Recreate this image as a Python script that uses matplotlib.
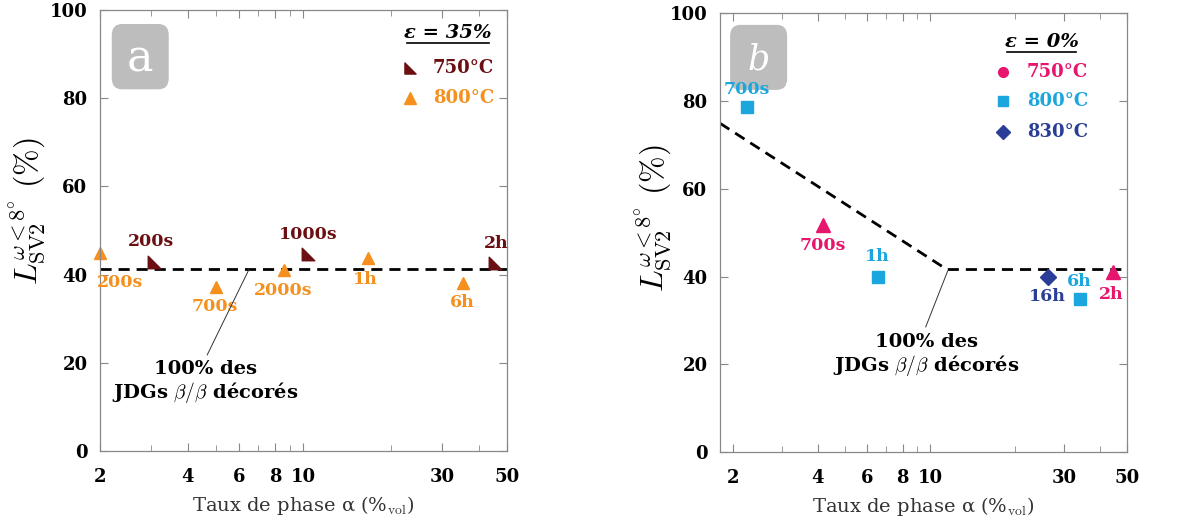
import matplotlib
matplotlib.use("Agg")
from matplotlib import pyplot as plt
from matplotlib.patches import FancyBboxPatch
from matplotlib.lines import Line2D
from matplotlib.path import Path
import matplotlib.ticker as mticker

# panel a data (eps = 35%)
a750_x = [3.07, 10.4, 45.6]
a750_y = [42.8, 44.6, 42.6]
a750_lab = ["200s", "1000s", "2h"]
a800_x = [2.0, 5.0, 8.55, 16.6, 35.3]
a800_y = [44.9, 37.1, 41.0, 43.7, 38.2]
a800_lab = ["200s", "700s", "2000s", "1h", "6h"]
a_plateau = 41.2

# panel b data (eps = 0%)
b750_x = [4.16, 44.6]
b750_y = [51.8, 41.0]
b750_lab = ["700s", "2h"]
b800_x = [2.25, 6.52, 34.2]
b800_y = [78.5, 40.0, 35.0]
b800_lab = ["700s", "1h", "6h"]
b830_x = [26.2]
b830_y = [40.0]
b830_lab = ["16h"]
b_line_x = [1.8, 11.5, 50]
b_line_y = [74.9, 41.6, 41.6]

xticks = [2, 4, 6, 8, 10, 30, 50]
yticks = [0, 20, 40, 60, 80, 100]

DARKRED = "#6B0F12"
ORANGE = "#F5901E"
PINK = "#E6166E"
LBLUE = "#1CA6DE"
DBLUE = "#2A3E97"
SERIF = "DejaVu Serif"
NOTE = "100% des\nJDGs $\\beta/\\beta$ décorés"

plt.rcParams["mathtext.fontset"] = "cm"
plt.rcParams["font.family"] = SERIF

# right triangle marker (like a lower-left corner)
corner = Path([(-1, -1), (-1, 1), (1, -1), (-1, -1)],
              [Path.MOVETO, Path.LINETO, Path.LINETO, Path.CLOSEPOLY])

fig = plt.figure(figsize=(11.9, 5.21), dpi=100)
ax1 = fig.add_axes([0.084, 0.134, 0.342, 0.847])
ax2 = fig.add_axes([0.605, 0.132, 0.342, 0.843])


def style_axes(ax, xmin, lab_x, lab_y):
    ax.set_xscale("log")
    ax.set_xlim(xmin, 50)
    ax.set_ylim(0, 100)
    ax.set_xticks(xticks)
    ax.xaxis.set_major_formatter(mticker.FuncFormatter(lambda v, p: "%d" % v))
    ax.xaxis.set_minor_formatter(mticker.NullFormatter())
    ax.set_yticks(yticks)
    ax.tick_params(which="both", direction="in", top=True, right=True,
                   color="#888888", labelsize=13)
    ax.tick_params(axis="x", which="both", pad=12)
    ax.tick_params(axis="y", which="both", pad=9)
    ax.tick_params(which="major", length=6)
    ax.tick_params(which="minor", length=4)
    for lab in ax.get_xticklabels() + ax.get_yticklabels():
        lab.set_fontweight("bold")
    for s in ax.spines.values():
        s.set_color("#888888")
        s.set_linewidth(0.9)
    ax.set_xlabel(r"Taux de phase α (%$_{\mathrm{vol}}$)", fontsize=14,
                  labelpad=6, color="#333333")
    ax.set_ylabel(r"$L^{\omega<8^{\circ}}_{\mathrm{SV2}}\ (\%)$", fontsize=23)
    ax.yaxis.set_label_coords(lab_x, lab_y)


def panel_box(ax, x0, y0, letter, italic, size):
    box = FancyBboxPatch((x0, y0), 0.14, 0.148, transform=ax.transAxes,
                         boxstyle="round,pad=0,rounding_size=0.025",
                         fc="#BDBDBD", ec="none", zorder=1)
    ax.add_patch(box)
    ax.text(x0 + 0.07, y0 + 0.07, letter, transform=ax.transAxes, ha="center",
            va="center", color="white", fontsize=size,
            style="italic" if italic else "normal", zorder=2)


def legend_block(ax, title, cx, ty, ux0, ux1, uy, mx, tx, rows):
    ax.text(cx, ty, title, transform=ax.transAxes, ha="center", va="center",
            fontsize=14, fontweight="bold", style="italic")
    ax.add_line(Line2D([ux0, ux1], [uy, uy], transform=ax.transAxes,
                       color="black", lw=1.2))
    for (my, marker, ms, col, txt) in rows:
        ax.plot([mx], [my], marker=marker, ms=ms, color=col, ls="none",
                transform=ax.transAxes)
        ax.text(tx, my, txt, transform=ax.transAxes, ha="left", va="center",
                fontsize=13, fontweight="bold", color=col)


def note(ax, xy, xyend, txt_xy):
    ax.annotate("", xy=xy, xytext=xyend,
                arrowprops=dict(arrowstyle="-", lw=0.7, color="#333333",
                                shrinkA=0, shrinkB=0))
    ax.text(txt_xy[0], txt_xy[1], NOTE, ha="center", va="center", fontsize=14,
            fontweight="bold", linespacing=1.1)


# ---------------- panel a ----------------
style_axes(ax1, 2, -0.125, 0.545)
ax1.plot([2, 50], [a_plateau, a_plateau], ls=(0, (4, 2.5)), color="black", lw=2)
ax1.plot(a750_x, a750_y, ls="none", marker=corner, ms=9, color=DARKRED, clip_on=False)
ax1.plot(a800_x, a800_y, ls="none", marker="^", ms=9, color=ORANGE, clip_on=False)

a750_pos = [(3.0, 47.6), (10.4, 49.0), (46.0, 47.0)]
for (x, y), t in zip(a750_pos, a750_lab):
    ax1.text(x, y, t, ha="center", va="center", fontsize=12.5,
             fontweight="bold", color=DARKRED)
a800_pos = [(2.34, 38.3), (4.97, 32.8), (8.5, 36.5), (16.3, 39.0), (35.0, 33.7)]
for (x, y), t in zip(a800_pos, a800_lab):
    ax1.text(x, y, t, ha="center", va="center", fontsize=12.5,
             fontweight="bold", color=ORANGE)

note(ax1, (6.5, a_plateau), (4.67, 21.8), (4.6, 15.6))

panel_box(ax1, 0.029, 0.82, "a", False, 32)
legend_block(ax1, "ε = 35%", 0.855, 0.948, 0.755, 0.955, 0.925, 0.762, 0.818,
             [(0.868, corner, 8, DARKRED, "750°C"),
              (0.80, "^", 8, ORANGE, "800°C")])

# ---------------- panel b ----------------
style_axes(ax2, 1.8, -0.11, 0.533)
ax2.plot(b_line_x, b_line_y, ls=(0, (4, 2.5)), color="black", lw=2)
ax2.plot(b750_x, b750_y, ls="none", marker="^", ms=10, color=PINK, clip_on=False)
ax2.plot(b800_x, b800_y, ls="none", marker="s", ms=8, color=LBLUE, clip_on=False)
ax2.plot(b830_x, b830_y, ls="none", marker="D", ms=8, color=DBLUE, clip_on=False)

b750_pos = [(4.16, 47.0), (44.0, 36.0)]
for (x, y), t in zip(b750_pos, b750_lab):
    ax2.text(x, y, t, ha="center", va="center", fontsize=12.5,
             fontweight="bold", color=PINK)
b800_pos = [(2.25, 82.7), (6.5, 44.5), (33.8, 38.8)]
for (x, y), t in zip(b800_pos, b800_lab):
    ax2.text(x, y, t, ha="center", va="center", fontsize=12.5,
             fontweight="bold", color=LBLUE)
b830_pos = [(26.0, 35.4)]
for (x, y), t in zip(b830_pos, b830_lab):
    ax2.text(x, y, t, ha="center", va="center", fontsize=12.5,
             fontweight="bold", color=DBLUE)

note(ax2, (11.57, 41.3), (9.66, 28.5), (9.7, 22.1))

panel_box(ax2, 0.025, 0.825, "b", True, 25)
legend_block(ax2, "ε = 0%", 0.79, 0.934, 0.705, 0.875, 0.912, 0.695, 0.754,
             [(0.866, "o", 7, PINK, "750°C"),
              (0.80, "s", 7, LBLUE, "800°C"),
              (0.729, "D", 7, DBLUE, "830°C")])

fig.savefig("out.png", dpi=100)
